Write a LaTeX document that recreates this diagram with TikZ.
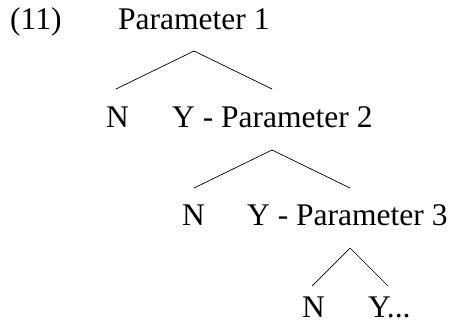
\documentclass[tikz,border=0pt]{standalone}
\usepackage{fontspec}
\setmainfont{Liberation Serif}
\begin{document}
\begin{tikzpicture}[x=1pt,y=-1pt,
  lbl/.style={anchor=base west,inner sep=0pt,font=\fontsize{31.5}{36}\selectfont},
  branch/.style={line width=0.7pt}]
\useasboundingbox (0,0) rectangle (452,329);
\node[lbl] (ex) at (10,30) {(11)};
\node[lbl] (p1) at (118,30) {Parameter 1};
\node[lbl] (n1) at (106,127) {N};
\node[lbl] (p2) at (172,127) {Y - Parameter 2};
\node[lbl] (n2) at (182,225) {N};
\node[lbl] (p3) at (247,225) {Y - Parameter 3};
\node[lbl] (n3) at (302,317) {N};
\node[lbl] (y3) at (368,317) {Y...};
\coordinate (t1) at (194,51);
\coordinate (l1) at (116,89);
\coordinate (r1) at (272,89);
\coordinate (t2) at (272,150);
\coordinate (l2) at (194,188);
\coordinate (r2) at (350,188);
\coordinate (t3) at (350,248);
\coordinate (l3) at (312,286);
\coordinate (r3) at (388,286);
\draw[branch] (l1) -- (t1) -- (r1);
\draw[branch] (l2) -- (t2) -- (r2);
\draw[branch] (l3) -- (t3) -- (r3);
\end{tikzpicture}
\end{document}
